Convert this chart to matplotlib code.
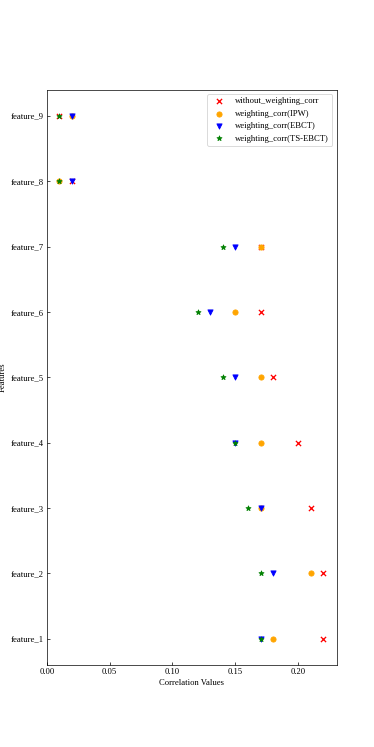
import matplotlib
matplotlib.use("Agg")
import matplotlib.pyplot as plt

plt.rcParams['font.family'] = ['Liberation Serif', 'DejaVu Serif']

features = ["feature_1", "feature_2", "feature_3", "feature_4", "feature_5",
            "feature_6", "feature_7", "feature_8", "feature_9"]
without_weighting = [0.22, 0.22, 0.21, 0.20, 0.18, 0.17, 0.17, 0.02, 0.01]
ipw = [0.18, 0.21, 0.17, 0.17, 0.17, 0.15, 0.17, 0.01, 0.02]
ebct = [0.17, 0.18, 0.17, 0.15, 0.15, 0.13, 0.15, 0.02, 0.02]
ts_ebct = [0.17, 0.17, 0.16, 0.15, 0.14, 0.12, 0.14, 0.01, 0.01]

dpi = 62.3
fig, ax = plt.subplots(figsize=(374 / dpi, 747 / dpi), dpi=dpi)
ax.scatter(without_weighting, features, marker='x', color='red', label='without_weighting_corr')
ax.scatter(ipw, features, marker='o', color='orange', label='weighting_corr(IPW)')
ax.scatter(ebct, features, marker='v', color='blue', label='weighting_corr(EBCT)')
ax.scatter(ts_ebct, features, marker='*', color='green', label='weighting_corr(TS-EBCT)')
ax.set_xlim(left=0)
ax.set_xlabel('Correlation Values')
ax.set_ylabel('Features')
ax.tick_params(direction='in')
ax.legend(loc='upper right')
fig.savefig('out.png', dpi=dpi)
